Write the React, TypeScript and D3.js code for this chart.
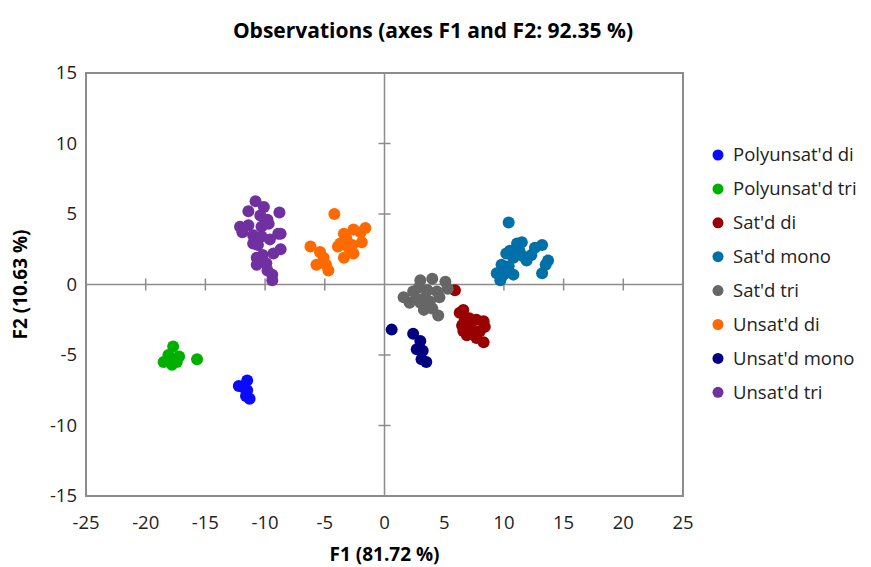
import React from 'react'
import * as d3 from 'd3'

const SERIES_NAMES = [
  "Polyunsat'd di",
  "Polyunsat'd tri",
  "Sat'd di",
  "Sat'd mono",
  "Sat'd tri",
  "Unsat'd di",
  "Unsat'd mono",
  "Unsat'd tri",
]

const COLORS = ['#0a0aff', '#00b000', '#990000', '#0070a8', '#666666', '#ff6a00', '#000080', '#7030a0']

const X_TICKS = [-25, -20, -15, -10, -5, 0, 5, 10, 15, 20, 25]
const Y_TICKS = [-15, -10, -5, 0, 5, 10, 15]

const polyDi = [
  [-11.5, -6.8], [-12.2, -7.2], [-11.8, -7.3], [-11.5, -7.5], [-11.3, -8.1], [-11.6, -7.9],
]
const polyTri = [
  [-17.7, -4.4], [-18.1, -5.0], [-17.2, -5.1], [-18.5, -5.5], [-17.8, -5.7], [-17.4, -5.5], [-15.7, -5.3],
]
const satDi = [
  [5.9, -0.4], [6.6, -1.8], [6.3, -2.0], [6.7, -2.6], [6.5, -2.9], [7.1, -2.4], [7.7, -2.5],
  [8.3, -2.6], [8.4, -3.0], [8.0, -3.3], [7.4, -3.3], [6.9, -3.6], [7.7, -3.8], [8.3, -4.1],
  [6.6, -3.3], [7.2, -2.8],
]
const satMono = [
  [10.4, 4.4], [11.1, 2.9], [11.5, 3.0], [10.5, 2.4], [10.2, 2.2], [11.3, 2.4], [10.8, 1.9],
  [11.6, 2.0], [11.9, 1.7], [12.6, 2.6], [13.2, 2.8], [12.3, 2.1], [13.7, 1.7], [13.5, 1.4],
  [13.2, 0.8], [9.8, 1.4], [10.4, 1.3], [9.4, 0.8], [10.0, 0.7], [10.8, 0.7], [9.7, 0.3],
]
const satTri = [
  [3.0, 0.3], [4.0, 0.4], [5.1, 0.2], [5.3, -0.3], [1.6, -0.9], [2.4, -0.5], [2.9, -0.2],
  [3.6, -0.4], [4.4, -0.5], [4.6, -0.9], [2.1, -1.3], [3.0, -1.3], [3.8, -1.2], [3.3, -1.8],
  [4.0, -1.7], [4.5, -2.2], [2.7, -1.0], [3.4, -0.9],
]
const unsatDi = [
  [-4.2, 5.0], [-6.2, 2.7], [-5.4, 2.3], [-5.1, 1.9], [-5.7, 1.4], [-5.1, 1.6], [-4.7, 1.0],
  [-4.9, 1.4], [-3.4, 3.6], [-3.7, 2.9], [-3.9, 2.7], [-2.6, 3.9], [-1.6, 4.0], [-2.0, 3.7],
  [-1.9, 3.0], [-2.7, 2.8], [-2.6, 2.2], [-3.4, 1.9], [-3.0, 2.6], [-3.2, 3.3],
]
const unsatMono = [
  [0.6, -3.2], [2.4, -3.5], [3.0, -4.0], [2.7, -4.6], [3.2, -4.7], [3.1, -5.3], [3.5, -5.5],
]
const unsatTri = [
  [-10.8, 5.9], [-10.1, 5.5], [-11.4, 5.2], [-8.8, 5.1], [-10.4, 4.9], [-9.8, 4.6], [-12.1, 4.1],
  [-11.4, 4.2], [-10.3, 4.1], [-9.7, 4.3], [-8.9, 3.6], [-8.7, 3.6], [-11.0, 3.5], [-10.3, 3.4],
  [-9.6, 3.2], [-11.9, 3.7], [-11.0, 2.9], [-10.6, 2.8], [-9.3, 2.2], [-8.7, 2.5], [-10.7, 1.9],
  [-10.7, 1.4], [-9.9, 1.5], [-9.8, 1.0], [-9.4, 0.7], [-9.4, 0.3], [-10.2, 2.1],
]

const SERIES = [polyDi, polyTri, satDi, satMono, satTri, unsatDi, unsatMono, unsatTri]

const FONT = "'Open Sans', 'Liberation Sans', sans-serif"

export default function App() {
  const W = 871
  const H = 567
  const x = d3.scaleLinear().domain([-25, 25]).range([86, 683])
  const y = d3.scaleLinear().domain([-15, 15]).range([496, 73])
  const axisColor = '#8c8c8c'

  return (
    <svg
      width={W}
      height={H}
      style={{ position: 'absolute', left: 0, top: 0, background: '#fff' }}
      fontFamily={FONT}
    >
      <text x={433} y={38} textAnchor="middle" fontSize={21} fontWeight="bold" fill="#000">
        Observations (axes F1 and F2: 92.35 %)
      </text>

      {/* plot frame */}
      <rect
        x={x(-25)}
        y={y(15)}
        width={x(25) - x(-25)}
        height={y(-15) - y(15)}
        fill="none"
        stroke={axisColor}
        strokeWidth={2}
      />

      {/* axes through origin */}
      <line x1={x(0)} x2={x(0)} y1={y(15)} y2={y(-15)} stroke={axisColor} strokeWidth={1.5} />
      <line x1={x(-25)} x2={x(25)} y1={y(0)} y2={y(0)} stroke={axisColor} strokeWidth={1.5} />
      {X_TICKS.filter((t) => t !== 0 && Math.abs(t) !== 25).map((t) => (
        <line key={'xt' + t} x1={x(t)} x2={x(t)} y1={y(0) - 6} y2={y(0) + 6} stroke={axisColor} strokeWidth={1.5} />
      ))}
      {Y_TICKS.filter((t) => t !== 0 && Math.abs(t) !== 15).map((t) => (
        <line key={'yt' + t} x1={x(0) - 6} x2={x(0) + 6} y1={y(t)} y2={y(t)} stroke={axisColor} strokeWidth={1.5} />
      ))}

      {/* tick labels */}
      {X_TICKS.map((t) => (
        <text key={'xl' + t} x={x(t)} y={529} textAnchor="middle" fontSize={18.5} fill="#222">
          {t}
        </text>
      ))}
      {Y_TICKS.map((t) => (
        <text key={'yl' + t} x={77} y={y(t)} dy="0.35em" textAnchor="end" fontSize={18.5} fill="#222">
          {t}
        </text>
      ))}

      <text x={x(0)} y={561} textAnchor="middle" fontSize={19} fontWeight="bold" fill="#000">
        F1 (81.72 %)
      </text>
      <text
        transform={`translate(27,${y(0)}) rotate(-90)`}
        textAnchor="middle"
        fontSize={19}
        fontWeight="bold"
        fill="#000"
      >
        F2 (10.63 %)
      </text>

      {/* points */}
      {SERIES.map((pts, i) => (
        <g key={'s' + i} fill={COLORS[i]}>
          {pts.map((p, j) => (
            <circle key={j} cx={x(p[0])} cy={y(p[1])} r={6} />
          ))}
        </g>
      ))}

      {/* legend */}
      {SERIES_NAMES.map((name, i) => (
        <g key={'lg' + i} transform={`translate(718,${155 + i * 33.9})`}>
          <circle cx={0} cy={0} r={5.5} fill={COLORS[i]} />
          <text x={15} y={0} dy="0.35em" fontSize={18.5} fill="#222">
            {name}
          </text>
        </g>
      ))}
    </svg>
  )
}
